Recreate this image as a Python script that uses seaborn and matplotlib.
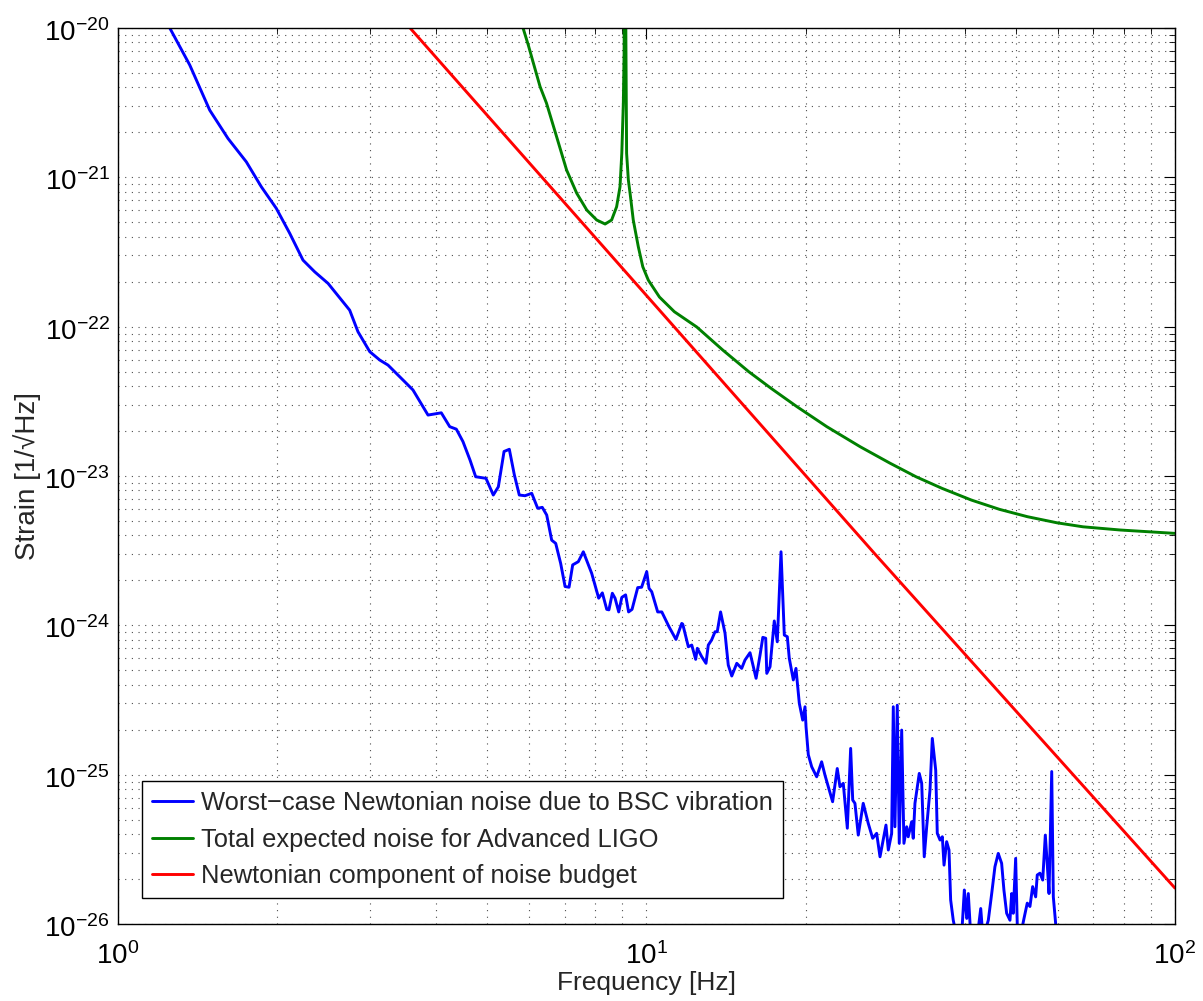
import numpy as np
import matplotlib
matplotlib.use("Agg")
import matplotlib.pyplot as plt
import matplotlib.ticker as mticker
import matplotlib.transforms as mtransforms
import seaborn as sns

# values (frequency in Hz, strain in 1/sqrt(Hz))
blue_freq = [1.253, 1.367, 1.491, 1.615, 1.749, 1.867, 1.993, 2.113, 2.239, 2.356,
             2.497, 2.744, 2.845, 2.995, 3.128, 3.243, 3.436, 3.615, 3.86, 4.09,
             4.243, 4.367, 4.495, 4.635, 4.751, 4.969, 5.13, 5.244, 5.376, 5.501,
             5.622, 5.745, 5.89, 6.065, 6.225, 6.35, 6.474, 6.616, 6.733, 6.88,
             7.013, 7.136, 7.25, 7.43, 7.594, 7.876, 8.12, 8.25, 8.41, 8.49,
             8.617, 8.72, 8.86, 8.98, 9.13, 9.25, 9.39, 9.625, 9.79, 10.01,
             10.11, 10.23, 10.5, 10.69, 11.03, 11.37, 11.66, 11.71, 12.0, 12.18,
             12.39, 12.48, 12.72, 12.96, 13.09, 13.28, 13.48, 13.61, 13.81, 14.08,
             14.28, 14.5, 14.82, 15.14, 15.36, 15.7, 16.12, 16.4, 16.6, 16.81,
             16.89, 17.13, 17.45, 17.68, 17.97, 18.23, 18.47, 18.63, 18.96, 19.18,
             19.46, 19.75, 19.95, 20.04, 20.24, 20.54, 20.99, 21.45, 21.76, 22.08,
             22.5, 22.96, 23.23, 23.57, 23.99, 24.34, 24.56, 24.8, 25.16, 25.71,
             26.28, 26.79, 27.26, 27.66, 28.39, 28.68, 29.1, 29.31, 29.52, 29.82,
             30.08, 30.4, 30.7, 31.07, 31.28, 31.75, 31.97, 32.21, 32.82, 33.17,
             33.54, 33.9, 34.39, 34.74, 35.26, 35.5, 35.93, 36.29, 36.56, 36.98,
             37.36, 37.63, 38.06, 38.69, 39.36, 39.94, 40.36, 40.64, 41.06, 42.03,
             42.9, 43.33, 44.34, 45.0, 45.64, 46.3, 46.99, 47.46, 48.03, 48.73,
             49.09, 49.43, 49.95, 50.3, 50.89, 51.8, 52.54, 53.16, 53.79, 54.5,
             54.88, 55.53, 56.2, 56.84, 57.26, 57.77, 58.45, 58.86, 59.47, 60.07]
blue_strain = [1.0e-20, 5.65e-21, 2.82e-21, 1.82e-21, 1.27e-21, 8.65e-22, 6.2e-22, 4.22e-22, 2.79e-22, 2.33e-22,
               1.95e-22, 1.29e-22, 9.25e-23, 6.8e-23, 5.98e-23, 5.53e-23, 4.51e-23, 3.77e-23, 2.56e-23, 2.65e-23,
               2.14e-23, 2.06e-23, 1.70e-23, 1.28e-23, 9.89e-24, 9.65e-24, 7.46e-24, 8.47e-24, 1.46e-23, 1.51e-23,
               1.02e-23, 7.46e-24, 7.38e-24, 7.66e-24, 6.08e-24, 6.17e-24, 5.48e-24, 3.72e-24, 3.54e-24, 2.60e-24,
               1.82e-24, 1.80e-24, 2.54e-24, 2.67e-24, 3.11e-24, 2.23e-24, 1.52e-24, 1.65e-24, 1.28e-24, 1.27e-24,
               1.64e-24, 1.52e-24, 1.23e-24, 1.54e-24, 1.60e-24, 1.23e-24, 1.28e-24, 1.79e-24, 1.80e-24, 2.29e-24,
               1.77e-24, 1.68e-24, 1.23e-24, 1.23e-24, 9.79e-25, 8.05e-25, 1.03e-24, 1.02e-24, 7.19e-25, 7.38e-25,
               5.92e-25, 7.02e-25, 6.17e-25, 5.57e-25, 7.38e-25, 7.98e-25, 9.06e-25, 9.06e-25, 1.23e-24, 8.85e-25,
               5.42e-25, 4.58e-25, 5.57e-25, 5.15e-25, 5.86e-25, 6.56e-25, 4.42e-25, 6.32e-25, 8.31e-25, 8.2e-25,
               4.77e-25, 5.28e-25, 1.07e-24, 7.76e-25, 3.11e-24, 8.61e-25, 8.39e-25, 6.01e-25, 4.31e-25, 5.15e-25,
               3.01e-25, 2.32e-25, 2.85e-25, 2.09e-25, 1.36e-25, 1.13e-25, 9.68e-26, 1.22e-25, 9.95e-26, 8.3e-26,
               6.59e-26, 1.10e-25, 8.3e-26, 8.75e-26, 4.38e-26, 1.50e-25, 6.76e-26, 6.43e-26, 3.94e-26, 6.43e-26,
               4.72e-26, 3.75e-26, 4.05e-26, 2.82e-26, 4.60e-26, 3.13e-26, 4.05e-26, 2.85e-25, 4.48e-26, 2.92e-25,
               3.47e-26, 1.99e-25, 3.47e-26, 4.48e-26, 3.84e-26, 4.84e-26, 3.75e-26, 6.43e-26, 1.02e-25, 8.75e-26,
               2.82e-26, 4.48e-26, 7.89e-26, 1.75e-25, 1.07e-25, 4.05e-26, 3.65e-26, 3.84e-26, 2.48e-26, 3.56e-26,
               3.13e-26, 1.45e-26, 1.06e-26, 8e-27, 7e-27, 1.69e-26, 1.09e-26, 1.60e-26, 8.5e-27, 7e-27,
               1.27e-26, 8e-27, 1.06e-26, 1.60e-26, 2.42e-26, 2.97e-26, 2.55e-26, 1.69e-26, 1.18e-26, 1.06e-26,
               1.60e-26, 1.18e-26, 2.75e-26, 1.0e-26, 8e-27, 1.09e-26, 1.38e-26, 1.31e-26, 1.78e-26, 1.52e-26,
               2.13e-26, 2.19e-26, 1.97e-26, 3.94e-26, 2.68e-26, 1.60e-26, 1.05e-25, 1.52e-26, 1.0e-26, 7e-27]

green_freq = [5.84, 5.975, 6.11, 6.29, 6.47, 6.76, 7.06, 7.38, 7.71, 8.05,
              8.35, 8.59, 8.78, 8.91, 8.98, 9.04, 9.07, 9.105, 9.145, 9.17,
              9.24, 9.31, 9.44, 9.65, 9.84, 10.08, 10.58, 11.29, 12.45, 13.94,
              15.61, 17.2, 19.27, 21.94, 25.38, 28.88, 32.36, 36.24, 41.2, 46.57,
              52.6, 59.84, 67.0, 78.8, 100]
green_strain = [1.0e-20, 7.69e-21, 5.81e-21, 4.05e-21, 3.13e-21, 1.87e-21, 1.12e-21, 7.82e-22, 6.04e-22, 5.18e-22,
                4.87e-22, 5.18e-22, 6.36e-22, 8.65e-22, 1.45e-21, 3.13e-21, 6.77e-21, 1e-19, 6.77e-21, 1.45e-21,
                9.6e-22, 7.82e-22, 5.18e-22, 3.43e-22, 2.52e-22, 2.05e-22, 1.58e-22, 1.26e-22, 9.95e-23, 6.98e-23,
                5.0e-23, 3.87e-23, 2.91e-23, 2.14e-23, 1.57e-23, 1.22e-23, 9.89e-24, 8.27e-24, 6.9e-24, 5.98e-24,
                5.34e-24, 4.86e-24, 4.57e-24, 4.35e-24, 4.13e-24]

red_freq = [3.57, 27.07, 100]
red_strain = [1.0e-20, 3.0e-24, 1.74e-26]

labels = ['Worst\u2212case Newtonian noise due to BSC vibration',
          'Total expected noise for Advanced LIGO',
          'Newtonian component of noise budget']

sns.set_theme(style='white')
plt.rcParams['font.family'] = ['Liberation Sans', 'DejaVu Sans']
plt.rcParams['mathtext.fontset'] = 'custom'
plt.rcParams['mathtext.rm'] = 'Liberation Sans'
plt.rcParams['mathtext.it'] = 'Liberation Sans:italic'

fig = plt.figure(figsize=(12.03, 10.01), dpi=100)
ax = fig.add_axes([0.0981, 0.0769, 0.8786, 0.8951])

sns.lineplot(x=blue_freq, y=blue_strain, ax=ax, color=(0, 0, 1), lw=2.1,
             sort=False, estimator=None, label=labels[0])
sns.lineplot(x=green_freq, y=green_strain, ax=ax, color=(0, 0.5, 0), lw=2.1,
             sort=False, estimator=None, label=labels[1])
sns.lineplot(x=red_freq, y=red_strain, ax=ax, color=(1, 0, 0), lw=2.1,
             sort=False, estimator=None, label=labels[2])

ax.set_xscale('log')
ax.set_yscale('log')
ax.set_xlim(1, 100)
ax.set_ylim(1e-26, 1e-20)

ax.xaxis.set_major_locator(mticker.FixedLocator([1, 10, 100]))
ax.yaxis.set_major_locator(mticker.FixedLocator([1e-26, 1e-25, 1e-24, 1e-23, 1e-22, 1e-21, 1e-20]))
ax.xaxis.set_minor_locator(mticker.LogLocator(base=10, subs=np.arange(2, 10), numticks=20))
ax.yaxis.set_minor_locator(mticker.LogLocator(base=10, subs=np.arange(2, 10), numticks=20))
fmt = mticker.FuncFormatter(lambda v, p: r'$\mathregular{10^{%d}}$' % round(np.log10(v)))
ax.xaxis.set_major_formatter(fmt)
ax.yaxis.set_major_formatter(fmt)
ax.xaxis.set_minor_formatter(mticker.NullFormatter())
ax.yaxis.set_minor_formatter(mticker.NullFormatter())

ax.grid(True, which='both', linestyle=(0, (1, 5)), color='0.3', linewidth=0.8)
ax.tick_params(which='both', direction='in', top=True, right=True, colors='black')
ax.tick_params(which='major', length=8, width=0.8, labelsize=20)
ax.tick_params(axis='y', which='major', pad=6)
ax.tick_params(axis='x', which='major', pad=13)
ax.tick_params(which='minor', length=4, width=0.6)
for s in ax.spines.values():
    s.set_color('black')
    s.set_linewidth(1.0)

# MATLAB puts the base of the exponent label level with the tick
shift = mtransforms.ScaledTranslation(0, -1.5 / 72, fig.dpi_scale_trans)
for lab in ax.get_yticklabels():
    lab.set_transform(lab.get_transform() + shift)

ax.set_xlabel('Frequency [Hz]', fontsize=19, labelpad=0.5)
ax.set_ylabel('Strain [1/\u221aHz]', fontsize=20, labelpad=2)

leg = ax.legend(loc='lower left', bbox_to_anchor=(0.0227, 0.029), borderaxespad=0,
                fontsize=18.4, frameon=True, fancybox=False, framealpha=1,
                edgecolor='black', handlelength=1.6, handletextpad=0.3,
                labelspacing=0.48, borderpad=0.4)
leg.get_frame().set_linewidth(1.0)

fig.savefig('out.png', dpi=100)
